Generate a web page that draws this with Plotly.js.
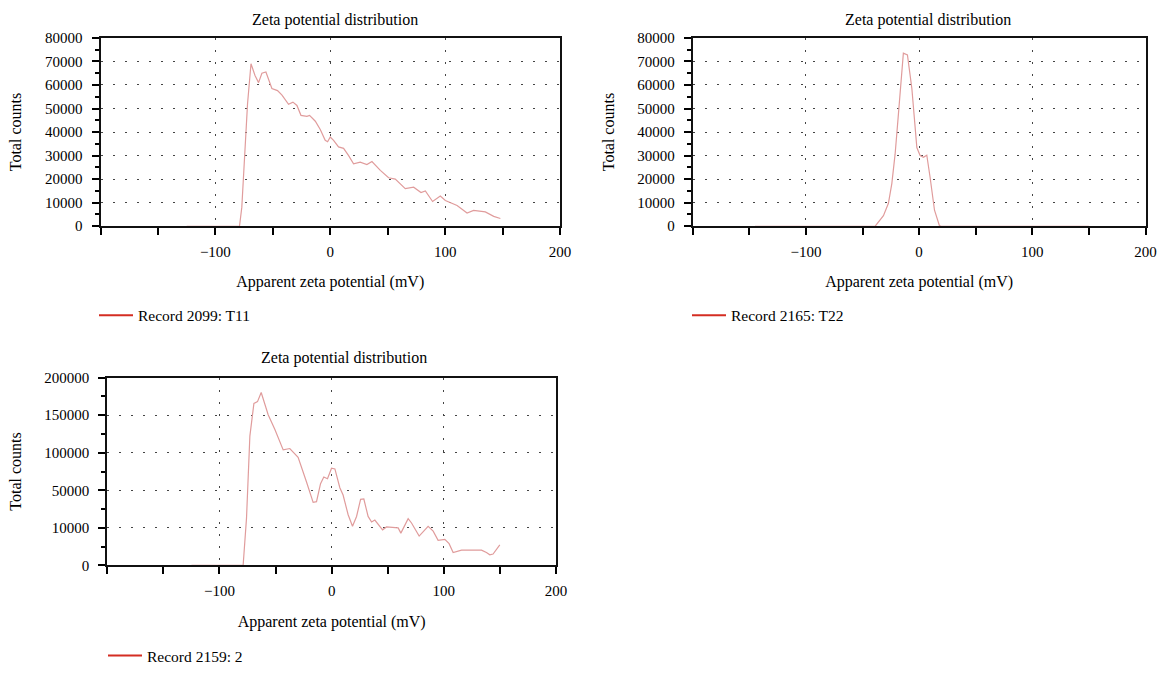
<!DOCTYPE html>
<html><head><meta charset="utf-8">
<script src="https://cdn.plot.ly/plotly-3.0.1.min.js"></script>
<style>html,body{margin:0;padding:0;background:#fff}#chart{width:1157px;height:673px}</style>
</head><body><div id="chart"></div>
<script>
// ---- data ----
const x1 = [-125, -79, -77, -75, -72, -69, -65.5, -62.4, -59.5, -56, -50.8, -45.9, -42, -36.3, -32.5, -29, -25.5, -20.3, -18, -13, -8.7, -4.4, -2.3, 0, 2.9, 7.2, 11.6, 16, 20.3, 26.1, 31.9, 36.3, 43.6, 50.8, 56.6, 65.3, 72.6, 79, 82.8, 89.1, 95.8, 100.2, 110.4, 119.1, 124.8, 135, 142.3, 148.1];
const y1 = [0, 0, 8000, 28000, 52000, 69000, 64000, 61000, 65000, 65500, 58500, 57600, 55700, 51800, 52700, 51300, 47100, 46700, 47100, 44600, 41100, 36500, 35900, 37900, 36500, 33700, 33100, 30000, 26500, 27200, 26200, 27500, 23700, 20600, 20000, 16000, 16600, 14300, 15000, 10500, 12800, 10900, 8800, 5600, 6700, 6100, 4200, 3300];

const x2 = [-145, -38.8, -31.5, -27.1, -24.1, -21.2, -18.3, -15.3, -13.9, -10.3, -6.4, -2, 0.9, 3.8, 6.8, 9.7, 13.6, 17.9, 19.5, 150];
const y2 = [0, 0, 4500, 9750, 18100, 30600, 47400, 64000, 73500, 72800, 58500, 33400, 30000, 29300, 30200, 20800, 6800, 300, 0, 0];

const x3 = [-125, -78.9, -75.9, -72.9, -69.3, -66.1, -62.8, -56.6, -50.6, -43.2, -37.3, -29.9, -22.4, -16.5, -13.5, -9.9, -7, -3.7, -0.1, 2.9, 7.3, 10.2, 14.7, 18.6, 22.2, 25.8, 28.7, 32.5, 35.6, 38.5, 45.4, 48.9, 59.3, 61.7, 68.2, 71.2, 78, 86, 90.5, 94.9, 100.9, 104.7, 108.3, 111.3, 115.8, 129.1, 133.6, 138, 141, 143.9, 149.9];
const y3 = [0, 0, 50300, 137800, 172700, 174500, 184300, 160500, 144700, 123100, 124500, 115100, 88800, 67100, 67900, 87000, 94100, 92300, 103500, 102800, 82700, 74900, 53900, 41600, 52100, 70300, 70700, 52100, 46200, 48200, 37800, 40900, 39900, 34300, 49700, 45100, 31200, 41600, 36400, 26600, 27700, 23100, 13600, 14400, 16200, 16200, 16200, 13600, 11200, 12000, 21700];

const recordNames = ['Record 2099: T11', 'Record 2165: T22', 'Record 2159: 2'];
const plotTitle = 'Zeta potential distribution';
const xTitle = 'Apparent zeta potential (mV)';
const yTitle = 'Total counts';

const xTickVals = [-100, 0, 100, 200];
const xTickText = ['\u2212100', '0', '100', '200'];
const yTickVals12 = [0, 10000, 20000, 30000, 40000, 50000, 60000, 70000, 80000];
const yTickText12 = ['0', '10000', '20000', '30000', '40000', '50000', '60000', '70000', '80000'];
const yTickVals3 = [0, 40000, 80000, 120000, 160000, 200000];
const yTickText3 = ['0', '10000', '50000', '100000', '150000', '200000'];

// ---- layout helpers ----
const W = 1157, H = 673;
const px = v => v / W, py = v => 1 - v / H;
const FONT = 'Liberation Serif';
const curveColor = '#e09c9c';
const legendColor = '#d42d22';

function xax(d0, d1, anchor) {
  return {
    domain: [px(d0), px(d1)], anchor: anchor, range: [-200, 200],
    tickmode: 'array', tickvals: xTickVals, ticktext: xTickText,
    ticks: 'outside', ticklen: 7, tickwidth: 2, tickcolor: '#000',
    minor: {tickmode: 'linear', tick0: 0, dtick: 50, ticks: 'outside', ticklen: 7, tickwidth: 2, tickcolor: '#000', showgrid: false},
    showline: true, linecolor: '#111', linewidth: 2, mirror: true,
    showgrid: true, gridcolor: '#444', gridwidth: 1, griddash: '2px,10px',
    zeroline: false, ticklabelstandoff: 4,
    tickfont: {family: FONT, size: 15, color: '#000'},
    title: {text: xTitle, font: {family: FONT, size: 16, color: '#000'}, standoff: 17},
    fixedrange: true
  };
}
function yax(t, b, anchor, range, vals, text, mdt) {
  return {
    domain: [py(b), py(t)], anchor: anchor, range: range,
    tickmode: 'array', tickvals: vals, ticktext: text,
    ticks: 'outside', ticklen: 7, tickwidth: 2, tickcolor: '#000',
    minor: {tickmode: 'linear', tick0: 0, dtick: mdt, ticks: 'outside', ticklen: 4, tickwidth: 2, tickcolor: '#000', showgrid: false},
    showline: true, linecolor: '#111', linewidth: 2, mirror: true,
    showgrid: true, gridcolor: '#444', gridwidth: 1, griddash: '2px,10px',
    zeroline: false, ticklabelstandoff: 6,
    tickfont: {family: FONT, size: 15, color: '#000'},
    title: {text: yTitle, font: {family: FONT, size: 16, color: '#000'}, standoff: 19},
    fixedrange: true
  };
}

const curve = (x, y, xa, ya) => ({x: x, y: y, xaxis: xa, yaxis: ya, type: 'scatter', mode: 'lines',
  line: {color: curveColor, width: 1.2}, showlegend: false, hoverinfo: 'skip'});
const legendItem = (name, leg, xa, ya) => ({x: [null], y: [null], xaxis: xa, yaxis: ya, type: 'scatter', mode: 'lines',
  line: {color: legendColor, width: 2}, name: name, legend: leg, showlegend: true});

const data = [
  curve(x1, y1, 'x', 'y'),
  curve(x2, y2, 'x2', 'y2'),
  curve(x3, y3, 'x3', 'y3'),
  legendItem(recordNames[0], 'legend', 'x', 'y'),
  legendItem(recordNames[1], 'legend2', 'x2', 'y2'),
  legendItem(recordNames[2], 'legend3', 'x3', 'y3')
];

const legStyle = (x, y) => ({x: px(x), y: py(y), xanchor: 'left', yanchor: 'middle', bgcolor: 'rgba(0,0,0,0)',
  font: {family: FONT, size: 15.5, color: '#000'}, itemwidth: 34, tracegroupgap: 0});

const titleAnn = (x, y) => ({text: plotTitle, xref: 'paper', yref: 'paper', x: px(x), y: py(y),
  xanchor: 'center', yanchor: 'middle', showarrow: false, font: {family: FONT, size: 16, color: '#000'}});

const layout = {
  width: W, height: H, margin: {l: 0, r: 0, t: 0, b: 0},
  paper_bgcolor: '#fff', plot_bgcolor: '#fff', showlegend: true,
  font: {family: FONT, color: '#000'},
  xaxis: xax(100.5, 560, 'y'),
  yaxis: yax(38.5, 230, 'x', [0, 80000], yTickVals12, yTickText12, 5000),
  xaxis2: xax(692.7, 1145.5, 'y2'),
  yaxis2: yax(38.5, 230, 'x2', [0, 80000], yTickVals12, yTickText12, 5000),
  xaxis3: xax(107.3, 556, 'y3'),
  yaxis3: yax(384, 574.7, 'x3', [0, 200000], yTickVals3, yTickText3, 20000),
  legend: legStyle(94, 321),
  legend2: legStyle(687, 321),
  legend3: legStyle(103, 667),
  annotations: [titleAnn(335, 20), titleAnn(928, 20), titleAnn(344, 364)]
};

Plotly.newPlot('chart', data, layout, {displayModeBar: false, staticPlot: true});
</script>
</body></html>
